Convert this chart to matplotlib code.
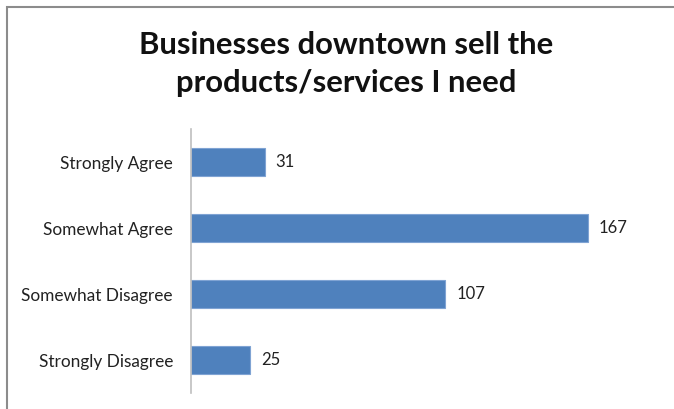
import matplotlib.pyplot as plt
from matplotlib.patches import Rectangle

categories = ["Strongly Agree", "Somewhat Agree", "Somewhat Disagree", "Strongly Disagree"]
counts = [31, 167, 107, 25]
title = "Businesses downtown sell the\nproducts/services I need"

W, H = 674, 409
fig = plt.figure(figsize=(W / 100, H / 100), dpi=100)
plt.rcParams['font.family'] = ['Lato', 'DejaVu Sans']

# chart frame (bottom and right edges run off the page)
fig.patches.append(Rectangle((7 / W, -0.1), 1.2, (H - 7) / H + 0.1, transform=fig.transFigure,
                             fill=False, edgecolor='#8c8c8c', linewidth=1.5))

ax = fig.add_axes([191 / W, 16 / H, 428 / W, 264 / H])
y = list(range(len(categories)))
ax.barh(y, counts, height=0.41, color='#4f81bd', edgecolor='#7fa3d3', linewidth=0.8)
for yi, v in zip(y, counts):
    ax.text(v + 4.5, yi, str(v), va='center', ha='left', fontsize=12, color='#222222')

ax.set_xlim(0, 180)
ax.set_ylim(len(categories) - 0.5, -0.5)
ax.set_yticks(y)
ax.set_yticklabels(categories, fontsize=12.4, color='#222222')
ax.tick_params(axis='y', length=0, pad=13)
ax.set_xticks([])
for s in ['top', 'right', 'bottom']:
    ax.spines[s].set_visible(False)
ax.spines['left'].set_color('#bfbfbf')
ax.spines['left'].set_linewidth(1.2)

fig.text(346 / W, 1 - 64 / H, title, ha='center', va='center', fontsize=22.3,
         fontweight='bold', linespacing=1.42, color='#111111')

fig.savefig("out.png", dpi=100)
